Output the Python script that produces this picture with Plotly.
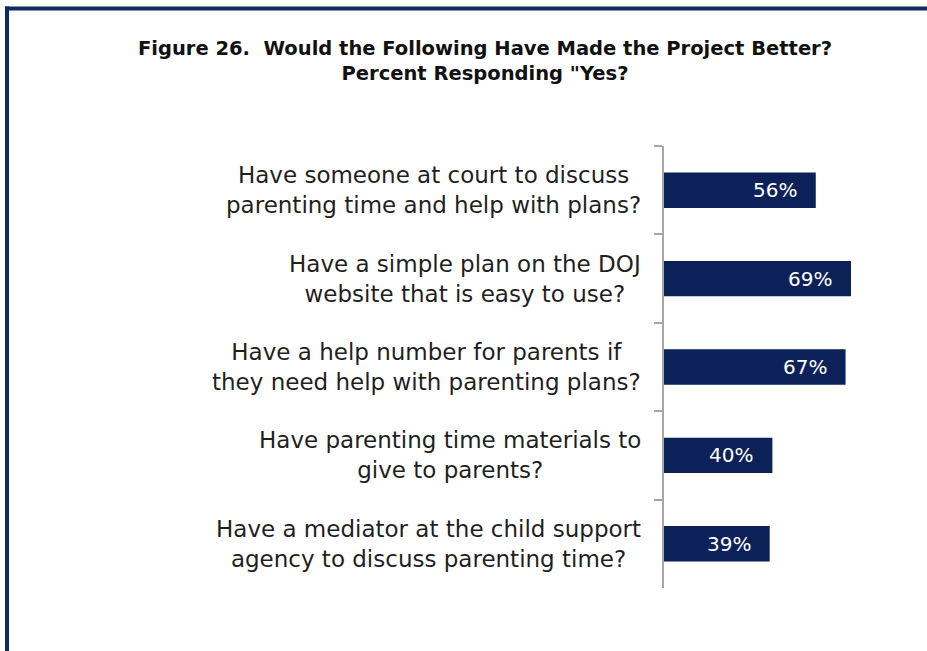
import plotly.graph_objects as go

# Survey items (top to bottom) and percent answering "Yes"
categories = [
    "Have someone at court to discuss<br>parenting time and help with plans?",
    "Have a simple plan on the DOJ<br>website that is easy to use?",
    "Have a help number for parents if<br>they need help with parenting plans?",
    "Have parenting time materials to<br>give to parents?",
    "Have a mediator at the child support<br>agency to discuss parenting time?",
]
pct_yes = [56, 69, 67, 40, 39]

W, H = 927, 651
M_L, M_R, M_T, M_B = 664, 20, 146, 63
NAVY = "#0c2158"
FRAME = "#0d2a62"
LABEL_FONT = "DejaVu Sans"

fig = go.Figure(
    go.Bar(
        x=pct_yes,
        y=categories,
        orientation="h",
        marker=dict(color=NAVY, line=dict(width=0)),
        hoverinfo="skip",
    )
)

# Value labels inside the bar ends
for cat, v in zip(categories, pct_yes):
    fig.add_annotation(
        x=v, y=cat, xref="x", yref="y",
        text=f"{v}%", showarrow=False,
        xanchor="right", xshift=-17,
        font=dict(family=LABEL_FONT, size=20, color="white", weight="normal"),
    )

# Category labels, centred lines, block aligned to the left of the axis
for cat in categories:
    fig.add_annotation(
        x=0, y=cat, xref="paper", yref="y",
        text=cat, showarrow=False,
        xanchor="right", xshift=-21, align="center",
        font=dict(family=LABEL_FONT, size=23, color="#1f1f1f", weight="normal"),
    )

# Frame lines along the top and left edge
pw = W - M_L - M_R
ph = H - M_T - M_B
def px_x(p):
    return (p - M_L) / pw
def px_y(p):
    return (H - M_B - p) / ph

fig.add_shape(type="line", xref="paper", yref="paper",
              x0=px_x(5), x1=px_x(W + 5), y0=px_y(8.5), y1=px_y(8.5),
              line=dict(color=FRAME, width=4))
fig.add_shape(type="line", xref="paper", yref="paper",
              x0=px_x(7), x1=px_x(7), y0=px_y(6.5), y1=px_y(H + 5),
              line=dict(color=FRAME, width=4))

fig.update_layout(
    width=W, height=H,
    margin=dict(l=M_L, r=M_R, t=M_T, b=M_B),
    paper_bgcolor="white", plot_bgcolor="white",
    bargap=0.6,
    showlegend=False,
    title=dict(
        text="Figure 26.  Would the Following Have Made the Project Better?<br>Percent Responding \"Yes?",
        x=485 / W, xanchor="center", xref="container",
        y=1 - 55 / H, yanchor="middle", yref="container",
        font=dict(family="DejaVu Sans", size=19.5, color="#111111", weight="bold"),
    ),
    xaxis=dict(range=[0, pw / 2.71], visible=False, fixedrange=True),
    yaxis=dict(
        autorange="reversed",
        showticklabels=False,
        showline=True, linecolor="#a6a6a6", linewidth=2,
        ticks="outside", tickson="boundaries", ticklen=8,
        tickcolor="#a6a6a6", tickwidth=2,
        showgrid=False, zeroline=False,
    ),
)

fig.write_html("out.html")
